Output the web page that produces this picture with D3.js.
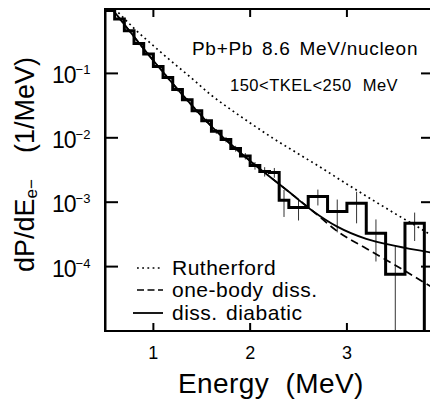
<!DOCTYPE html>
<html><head><meta charset="utf-8">
<script src="https://cdn.jsdelivr.net/npm/d3@7"></script>
<style>html,body{margin:0;padding:0;background:#fff;} svg{display:block;}</style>
</head><body>
<script>
// Measured spectrum: histogram bin edges (MeV), dP/dE (1/MeV) and statistical errors
const binEdges = [0.5,0.6,0.7,0.8,0.9,1.0,1.1,1.2,1.3,1.4,1.5,1.6,1.7,1.8,1.9,2.0,2.1,2.2,2.3,2.4,2.6,2.8,3.0,3.2,3.4,3.6,3.8];
const binValues = [0.95,0.70,0.46,0.29,0.20,0.128,0.086,0.056,0.039,0.0262,0.0184,0.0126,0.0094,0.0068,0.0052,0.0037,0.0030,0.0029,0.00107,8.3e-4,1.23e-3,7.2e-4,9.6e-4,3.3e-4,7.6e-5,4.7e-4];
const binErrors = [0.03,0.03,0.02,0.015,0.01,0.007,0.005,0.0035,0.0025,0.0018,0.0014,0.0011,0.0009,0.0007,0.0006,0.0005,0.0005,0.0005,4.8e-4,3.1e-4,3.4e-4,3.8e-4,4.9e-4,2.1e-4,1.38e-4,2.2e-4];

// Model calculations
const curveEnergy = [0.55,0.6,0.7,0.8,0.9,1.0,1.1,1.2,1.4,1.6,1.8,2.0,2.2,2.4,2.65,2.9,3.2,3.5,3.9];
const diabaticValues = [1.10,0.891,0.575,0.372,0.240,0.158,0.105,0.0692,0.0316,0.0151,0.00794,0.00437,0.00251,0.00145,7.24e-4,4.17e-4,2.69e-4,2.09e-4,1.62e-4];
const oneBodyValues = [1.10,0.891,0.575,0.372,0.240,0.158,0.105,0.0692,0.0316,0.0151,0.00794,0.00437,0.00251,0.00145,7.24e-4,3.55e-4,1.91e-4,1.05e-4,4.57e-5];
const rutherfordEnergy = [0.6,0.7,0.8,1.0,1.2,1.4,1.6,1.8,2.0,2.25,2.5,2.75,3.0,3.25,3.5,3.75,3.9];
const rutherfordValues = [1.0,0.708,0.501,0.269,0.148,0.0832,0.0457,0.0275,0.0170,0.00955,0.00562,0.00331,0.00191,0.00112,6.61e-4,3.98e-4,2.88e-4];

const xTicks = [1, 2, 3];
const yTicks = [1e-1, 1e-2, 1e-3, 1e-4];
const yTickExponents = ["\u22121", "\u22122", "\u22123", "\u22124"];
const legendLabels = ["Rutherford", "one-body diss.", "diss. diabatic"];

const W = 430, H = 400;
const pL = 105, pR = 434, pT = 9, pB = 331;
const font = "'Liberation Sans', Arial, Helvetica, sans-serif";

const svg = d3.select("body").append("svg").attr("width", W).attr("height", H);

const x = d3.scaleLinear().domain([0.5, 3.9]).range([pL, pR]);
const y = d3.scaleLog().domain([1e-5, 1]).range([pB, pT]);

svg.append("defs").append("clipPath").attr("id", "plot")
  .append("rect").attr("x", pL).attr("y", pT).attr("width", pR - pL).attr("height", pB - pT);

const plot = svg.append("g").attr("clip-path", "url(#plot)");

// Error bars
const centers = binValues.map((v, i) => (binEdges[i] + binEdges[i + 1]) / 2);
plot.append("g").selectAll("line").data(binValues).join("line")
  .attr("x1", (d, i) => x(centers[i])).attr("x2", (d, i) => x(centers[i]))
  .attr("y1", (d, i) => y(d + binErrors[i]))
  .attr("y2", (d, i) => (d - binErrors[i] > 0 ? y(d - binErrors[i]) : pB + 5))
  .attr("stroke", "#333").attr("stroke-width", 1);

// Model curves
const line = d3.line().x(d => x(d[0])).y(d => y(d[1])).curve(d3.curveMonotoneX);
plot.append("path").datum(rutherfordEnergy.map((e, i) => [e, rutherfordValues[i]]))
  .attr("d", line).attr("fill", "none").attr("stroke", "#000")
  .attr("stroke-width", 1.7).attr("stroke-dasharray", "1.8,3.4");
plot.append("path").datum(curveEnergy.map((e, i) => [e, oneBodyValues[i]]))
  .attr("d", line).attr("fill", "none").attr("stroke", "#000")
  .attr("stroke-width", 1.7).attr("stroke-dasharray", "8,4.5");
plot.append("path").datum(curveEnergy.map((e, i) => [e, diabaticValues[i]]))
  .attr("d", line).attr("fill", "none").attr("stroke", "#000").attr("stroke-width", 1.8);

// Histogram outline
const steps = [[x(binEdges[0]), pB + 5]];
binValues.forEach((v, i) => {
  steps.push([x(binEdges[i]), y(v)]);
  steps.push([x(binEdges[i + 1]), y(v)]);
});
steps.push([x(binEdges[binEdges.length - 1]), pB + 5]);
plot.append("path").attr("d", d3.line()(steps))
  .attr("fill", "none").attr("stroke", "#000").attr("stroke-width", 3)
  .attr("stroke-linejoin", "miter");

// Frame and ticks
const frame = svg.append("g").attr("stroke", "#000").attr("stroke-width", 2).attr("fill", "none");
frame.append("rect").attr("x", pL).attr("y", pT).attr("width", pR - pL).attr("height", pB - pT);
xTicks.forEach(t => {
  frame.append("line").attr("x1", x(t)).attr("x2", x(t)).attr("y1", pB).attr("y2", pB - 8);
  frame.append("line").attr("x1", x(t)).attr("x2", x(t)).attr("y1", pT).attr("y2", pT + 8);
});
yTicks.forEach(t => {
  frame.append("line").attr("x1", pL).attr("x2", pL + 13).attr("y1", y(t)).attr("y2", y(t));
  frame.append("line").attr("x1", pR).attr("x2", pR - 13).attr("y1", y(t)).attr("y2", y(t));
});

// Tick labels
svg.append("g").selectAll("text").data(xTicks).join("text")
  .attr("x", d => x(d)).attr("y", 359).attr("text-anchor", "middle")
  .attr("font-family", font).attr("font-size", 18).text(d => d);

yTicks.forEach((t, i) => {
  const tx = svg.append("text").attr("x", 52).attr("y", y(t) + 10)
    .attr("font-family", font).attr("font-size", 23);
  tx.append("tspan").attr("letter-spacing", -1).text("10");
  tx.append("tspan").attr("font-size", 13).attr("dy", -9).text(yTickExponents[i]);
});

// Axis titles
svg.append("text").attr("x", 178).attr("y", 393)
  .attr("font-family", font).attr("font-size", 28).attr("letter-spacing", 0.4).attr("xml:space", "preserve")
  .text("Energy  (MeV)");

const yl = svg.append("text").attr("transform", "translate(34,272) rotate(-90)")
  .attr("font-family", font).attr("font-size", 27);
yl.append("tspan").attr("x", 0).text("dP/dE");
yl.append("tspan").attr("font-size", 17).attr("dy", 3).text("e\u2212");
yl.append("tspan").attr("x", 119).attr("dy", -3).text("(1/MeV)");

// Reaction annotations
svg.append("text").attr("x", 192).attr("y", 55)
  .attr("font-family", font).attr("font-size", 19).attr("letter-spacing", 0.7).attr("word-spacing", 3)
  .text("Pb+Pb 8.6 MeV/nucleon");
svg.append("text").attr("x", 230).attr("y", 91)
  .attr("font-family", font).attr("font-size", 16.5).attr("letter-spacing", 0.5).attr("word-spacing", 6)
  .text("150<TKEL<250 MeV");

// Legend
const legendY = [268, 290, 313];
const legendStyles = [
  {dash: "1.8,3.4", x1: 137, x2: 161, w: 1.6},
  {dash: "7,3.5", x1: 137, x2: 163, w: 1.7},
  {dash: null, x1: 133, x2: 163, w: 1.8}
];
legendLabels.forEach((label, i) => {
  const s = legendStyles[i];
  svg.append("line").attr("x1", s.x1).attr("x2", s.x2).attr("y1", legendY[i]).attr("y2", legendY[i])
    .attr("stroke", "#000").attr("stroke-width", s.w).attr("stroke-dasharray", s.dash);
  svg.append("text").attr("x", 172).attr("y", legendY[i] + 7)
    .attr("font-family", font).attr("font-size", 21).attr("letter-spacing", 0.5).attr("word-spacing", 2)
    .text(label);
});
</script>
</body></html>
